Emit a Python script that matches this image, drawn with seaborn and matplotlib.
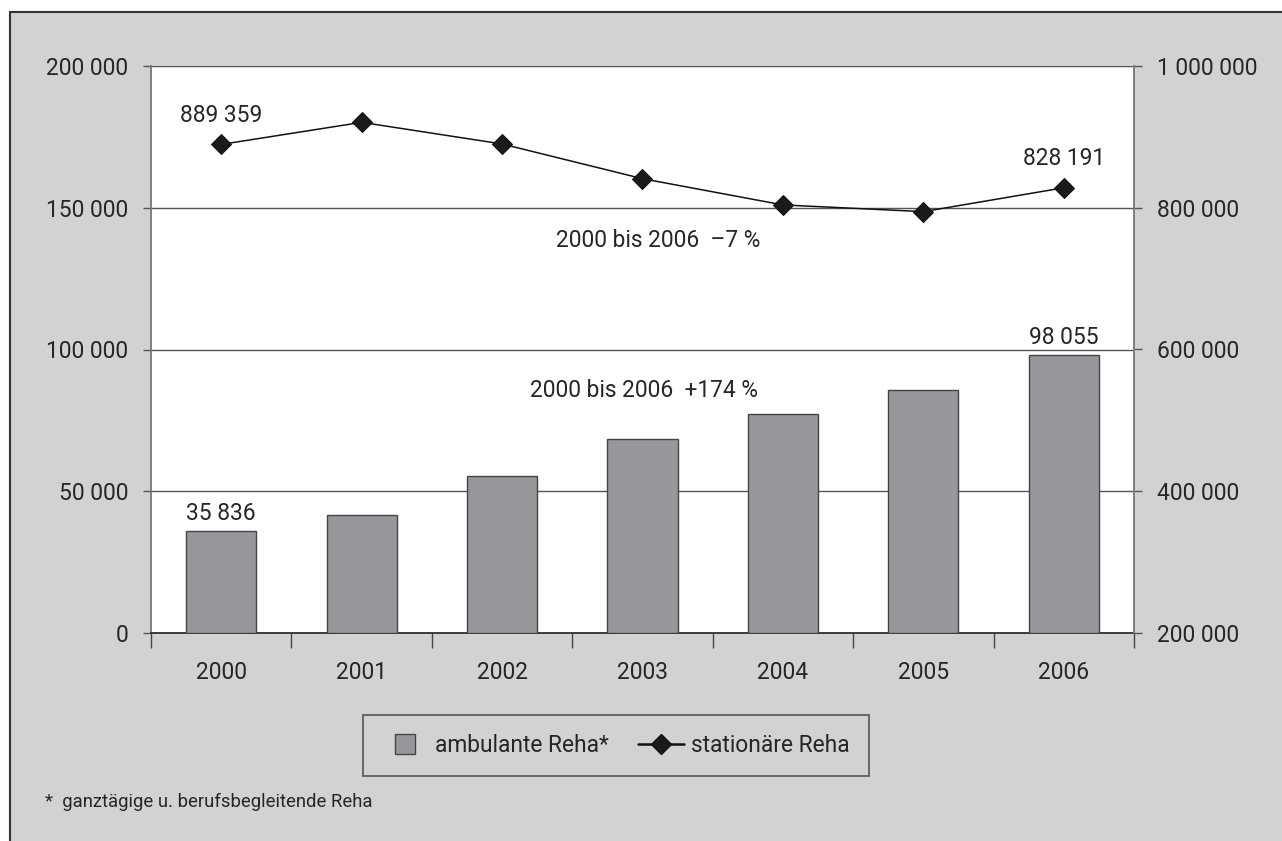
import matplotlib
matplotlib.use("Agg")
import matplotlib.pyplot as plt
from matplotlib.ticker import FixedLocator, FuncFormatter, NullFormatter
from matplotlib.lines import Line2D
from matplotlib.patches import Rectangle
import seaborn as sns
import pandas as pd

# Data
years = ["2000", "2001", "2002", "2003", "2004", "2005", "2006"]
ambulant = [35836, 41600, 55400, 68300, 77100, 85800, 98055]
stationaer = [889359, 920500, 890000, 841000, 804000, 794500, 828191]
left_ticks = [0, 50000, 100000, 150000, 200000]
right_ticks = [200000, 400000, 600000, 800000, 1000000]

BG = "#d1d2d4"
BAR = "#97989c"
TXT = "#262626"
GRID = "#555555"
FS = 16.4

sns.set_theme(style="white")
plt.rcParams["font.family"] = ["Roboto", "DejaVu Sans"]
plt.rcParams["text.color"] = TXT

fig = plt.figure(figsize=(12.82, 8.41), dpi=100, facecolor="white")

# grey panel with a frame on top and left
W, H = 1282, 841
fig.patches.append(Rectangle((10 / W, 0), 1 - 10 / W, 1 - 12 / H,
                             transform=fig.transFigure, facecolor=BG,
                             edgecolor="none", zorder=-10))
fig.lines.append(Line2D([10 / W, 1], [1 - 12 / H, 1 - 12 / H], transform=fig.transFigure,
                        color="#333333", lw=1.5))
fig.lines.append(Line2D([10 / W, 10 / W], [0, 1 - 12 / H], transform=fig.transFigure,
                        color="#333333", lw=1.5))

ax = fig.add_axes([151 / W, 1 - 633 / H, (1134 - 151) / W, (633 - 66) / H])
ax.set_facecolor("white")

df_bar = pd.DataFrame({"Jahr": years, "ambulant": ambulant})
sns.barplot(data=df_bar, x="Jahr", y="ambulant", color=BAR, saturation=1,
            width=0.5, edgecolor="#444444", linewidth=1.0, ax=ax, zorder=3)

ax.set_xlim(-0.5, 6.5)
ax.set_ylim(0, 200000)
ax.set_xlabel("")
ax.set_ylabel("")
ax.set_axisbelow(True)

# left axis
ax.yaxis.set_major_locator(FixedLocator(left_ticks))
ax.yaxis.set_major_formatter(FuncFormatter(lambda v, p: f"{int(v):,}".replace(",", " ")))
ax.tick_params(axis="y", which="major", left=True, length=5.8, width=1.0, color=GRID,
               pad=10.5, labelsize=FS, labelcolor=TXT)
ax.grid(axis="y", color=GRID, linewidth=1.0)

# x axis: ticks between categories, labels centred
ax.xaxis.set_major_locator(FixedLocator([i - 0.5 for i in range(len(years) + 1)]))
ax.xaxis.set_major_formatter(NullFormatter())
ax.xaxis.set_minor_locator(FixedLocator(list(range(len(years)))))
ax.xaxis.set_minor_formatter(FuncFormatter(lambda v, p: years[int(round(v))]))
ax.tick_params(axis="x", which="major", bottom=True, length=10.8, width=1.0, color="#444444")
ax.tick_params(axis="x", which="minor", bottom=True, length=0, pad=20.5, labelsize=FS,
               labelcolor=TXT)

for side in ["top", "right"]:
    ax.spines[side].set_visible(False)
ax.spines["left"].set_color("#777777")
ax.spines["left"].set_linewidth(1.3)
ax.spines["bottom"].set_color("#222222")
ax.spines["bottom"].set_linewidth(1.2)

# right axis with the inpatient series
ax2 = ax.twinx()
ax2.patch.set_visible(False)
df_line = pd.DataFrame({"x": list(range(len(years))), "stationaer": stationaer})
sns.lineplot(data=df_line, x="x", y="stationaer", ax=ax2, color="#111111", linewidth=1.1,
             marker="D", markersize=10, markeredgecolor="#111111", markerfacecolor="#1a1a1a",
             zorder=5)
ax2.set_xlim(-0.5, 6.5)
ax2.set_ylim(200000, 1000000)
ax2.set_xlabel("")
ax2.set_ylabel("")
ax2.yaxis.set_major_locator(FixedLocator(right_ticks))
ax2.yaxis.set_major_formatter(FuncFormatter(lambda v, p: f"{int(v):,}".replace(",", " ")))
ax2.tick_params(axis="y", right=True, length=5.8, width=1.0, color=GRID, pad=10.5,
                labelsize=FS, labelcolor=TXT)
ax2.grid(False)
for side in ["top", "left", "bottom"]:
    ax2.spines[side].set_visible(False)
ax2.spines["right"].set_color("#777777")
ax2.spines["right"].set_linewidth(1.3)

# value labels
for i in (0, len(years) - 1):
    ax.annotate(f"{ambulant[i]:,}".replace(",", " "), (i, ambulant[i]),
                xytext=(0, 4.5), textcoords="offset points", ha="center", va="bottom",
                fontsize=FS, color=TXT, zorder=6)
    ax2.annotate(f"{stationaer[i]:,}".replace(",", " "), (i, stationaer[i]),
                 xytext=(0, 12.5), textcoords="offset points", ha="center", va="bottom",
                 fontsize=FS, color=TXT, zorder=6)

ax.text(3.11, 138600, "2000 bis 2006  \u20137 %", ha="center", va="center",
        fontsize=FS, color=TXT, zorder=6)
ax.text(3.01, 85600, "2000 bis 2006  +174 %", ha="center", va="center",
        fontsize=FS, color=TXT, zorder=6)

# legend
handles = [
    Line2D([], [], linestyle="none", marker="s", markersize=14, markerfacecolor=BAR,
           markeredgecolor="#444444", markeredgewidth=1.0),
    Line2D([], [], color="#111111", linewidth=1.8, marker="D", markersize=10,
           markerfacecolor="#1a1a1a", markeredgecolor="#111111"),
]
leg = fig.legend(handles, ["ambulante Reha*", "station\u00e4re Reha"], ncol=2, loc="center",
                 bbox_to_anchor=(616 / W, 1 - 745.5 / H), frameon=True, fancybox=False,
                 edgecolor="#555555", facecolor=BG, framealpha=1, fontsize=FS,
                 handlelength=2.0, handletextpad=0.3, columnspacing=1.3,
                 borderpad=0.85, borderaxespad=0)
leg.get_frame().set_linewidth(1.2)

fig.text(45 / W, 1 - 802 / H, "*  ganzt\u00e4gige u. berufsbegleitende Reha", ha="left",
         va="center", fontsize=13.3, color=TXT)

fig.savefig("out.png", dpi=100, facecolor=fig.get_facecolor())
